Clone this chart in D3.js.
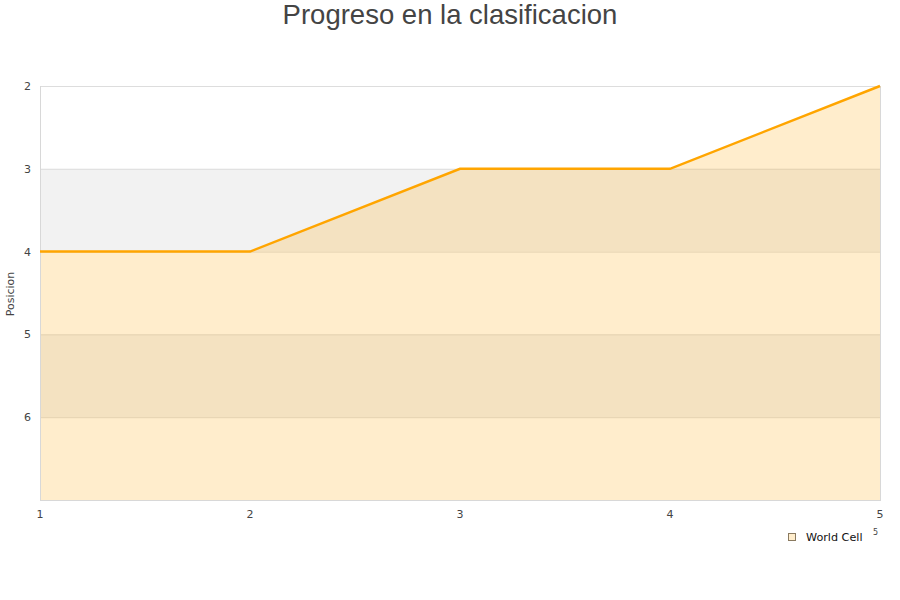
<!DOCTYPE html>
<html><head><meta charset="utf-8">
<script src="https://cdn.jsdelivr.net/npm/d3@7/dist/d3.min.js"></script>
<style>body{margin:0;background:#fff;font-family:"DejaVu Sans",sans-serif;}</style>
</head><body><svg id="c" width="900" height="600"></svg>
<script>
const jornadas = [1, 2, 3, 4, 5];
const posiciones = [4, 4, 3, 3, 2];
const yTicks = [2, 3, 4, 5, 6];
const seriesName = "World Cell";
const title = "Progreso en la clasificacion";
const yTitle = "Posicion";

const svg = d3.select("#c");
const L = 40, R = 880, T = 86, B = 500;
const x = d3.scaleLinear().domain([1, 5]).range([L, R]);
const y = d3.scaleLinear().domain([2, 7]).range([T, B]);

// alternating bands
const bands = [2, 3, 4, 5, 6];
svg.selectAll("rect.band").data(bands).enter().append("rect")
  .attr("x", L).attr("width", R - L)
  .attr("y", d => y(d)).attr("height", d => y(d + 1) - y(d))
  .attr("fill", (d, i) => i % 2 === 1 ? "#f2f2f2" : "#ffffff");

// grid lines
svg.selectAll("line.grid").data(yTicks).enter().append("line")
  .attr("x1", L).attr("x2", R).attr("y1", d => y(d) + 0.5).attr("y2", d => y(d) + 0.5)
  .attr("stroke", "#dddddd").attr("stroke-width", 1);

// area
const pts = jornadas.map((j, i) => [j, posiciones[i]]);
svg.append("path").datum(pts)
  .attr("d", d3.area().x(d => x(d[0])).y0(y(7)).y1(d => y(d[1])))
  .attr("fill", "#ffa500").attr("fill-opacity", 0.2);

// borders
svg.append("line").attr("x1", L + 0.5).attr("x2", L + 0.5).attr("y1", T).attr("y2", B)
  .attr("stroke", "#d8d8d8");
svg.append("line").attr("x1", R + 0.5).attr("x2", R + 0.5).attr("y1", T).attr("y2", B)
  .attr("stroke", "#d8d8d8");
svg.append("line").attr("x1", L).attr("x2", R + 1).attr("y1", B + 0.5).attr("y2", B + 0.5)
  .attr("stroke", "#d8d8d8");

// line
svg.append("path").datum(pts)
  .attr("d", d3.line().x(d => x(d[0])).y(d => y(d[1])))
  .attr("fill", "none").attr("stroke", "#ffa500").attr("stroke-width", 2.5);

// y ticks
svg.selectAll("text.yt").data(yTicks).enter().append("text")
  .attr("x", 31).attr("y", d => y(d) + 4).attr("text-anchor", "end")
  .attr("font-size", 11).attr("fill", "#444").text(d => d);

// x ticks
svg.selectAll("text.xt").data(jornadas).enter().append("text")
  .attr("x", d => x(d)).attr("y", 518).attr("text-anchor", "middle")
  .attr("font-size", 11).attr("fill", "#444").text(d => d);

// y title
svg.append("text").attr("transform", "translate(14,294) rotate(-90)")
  .attr("text-anchor", "middle").attr("font-size", 11).attr("fill", "#444").text(yTitle);

// title
svg.append("text").attr("x", 450).attr("y", 24).attr("text-anchor", "middle")
  .attr("font-family", "'Liberation Sans',Arial,sans-serif")
  .attr("font-size", 27.5).attr("fill", "#444").text(title);

// legend
svg.append("rect").attr("x", 788.5).attr("y", 533.5).attr("width", 7).attr("height", 7)
  .attr("fill", "#ffedcc").attr("stroke", "#8a7a60");
svg.append("text").attr("x", 806).attr("y", 541).attr("font-size", 11.2).attr("fill", "#111").text(seriesName);
svg.append("text").attr("x", 873).attr("y", 535).attr("font-size", 8).attr("fill", "#444").text("5");
</script></body></html>
